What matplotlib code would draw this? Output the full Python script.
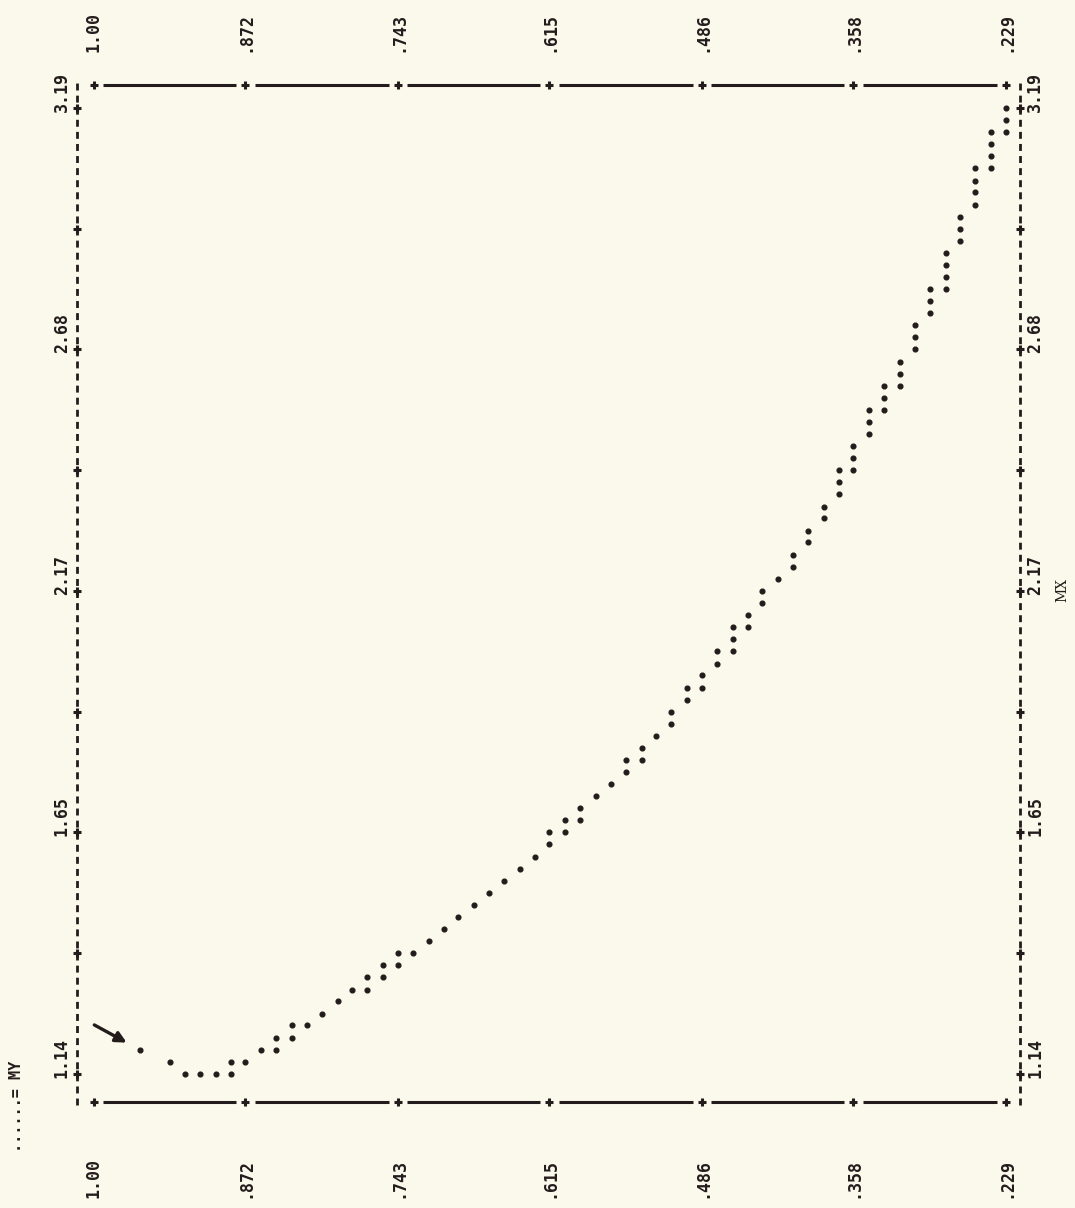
import matplotlib
matplotlib.use("Agg")
import matplotlib.pyplot as plt
import matplotlib.transforms as mtransforms

# ---------------- data ----------------
mx_ticks = [1.14, 1.396, 1.653, 1.909, 2.165, 2.421, 2.678, 2.934, 3.19]
mx_label_values = [1.14, 1.653, 2.165, 2.678, 3.19]
mx_labels = ["1.14", "1.65", "2.17", "2.68", "3.19"]

my_ticks = [1.00, 0.872, 0.743, 0.615, 0.486, 0.358, 0.229]
my_labels = ["1.00", ".872", ".743", ".615", ".486", ".358", ".229"]

mx = [1.191, 1.166, 1.140, 1.140, 1.140, 1.140, 1.166, 1.166, 1.191, 1.191,
      1.217, 1.217, 1.243, 1.243, 1.268, 1.294, 1.319, 1.319, 1.345, 1.345,
      1.371, 1.371, 1.396, 1.396, 1.422, 1.448, 1.473, 1.499, 1.524, 1.550,
      1.576, 1.601, 1.627, 1.653, 1.653, 1.678, 1.678, 1.704, 1.729, 1.755,
      1.781, 1.806, 1.806, 1.832, 1.858, 1.883, 1.909, 1.934, 1.960, 1.960,
      1.986, 2.011, 2.037, 2.037, 2.063, 2.088, 2.088, 2.114, 2.139, 2.165,
      2.191, 2.216, 2.242, 2.268, 2.293, 2.319, 2.344, 2.370, 2.396, 2.421,
      2.421, 2.447, 2.473, 2.498, 2.524, 2.549, 2.549, 2.575, 2.601, 2.601,
      2.626, 2.652, 2.678, 2.703, 2.729, 2.754, 2.780, 2.806, 2.806, 2.831,
      2.857, 2.883, 2.908, 2.934, 2.959, 2.985, 3.011, 3.036, 3.062, 3.062,
      3.088, 3.113, 3.139, 3.139, 3.164, 3.190]
my = [0.961, 0.936, 0.923, 0.910, 0.897, 0.884, 0.884, 0.872, 0.859, 0.846,
      0.846, 0.833, 0.833, 0.820, 0.807, 0.794, 0.782, 0.769, 0.769, 0.756,
      0.756, 0.743, 0.743, 0.730, 0.717, 0.704, 0.692, 0.679, 0.666, 0.653,
      0.640, 0.627, 0.615, 0.615, 0.602, 0.602, 0.589, 0.589, 0.576, 0.563,
      0.550, 0.550, 0.537, 0.537, 0.525, 0.512, 0.512, 0.499, 0.499, 0.486,
      0.486, 0.473, 0.473, 0.460, 0.460, 0.460, 0.447, 0.447, 0.435, 0.435,
      0.422, 0.409, 0.409, 0.396, 0.396, 0.383, 0.383, 0.370, 0.370, 0.370,
      0.358, 0.358, 0.358, 0.345, 0.345, 0.345, 0.332, 0.332, 0.332, 0.319,
      0.319, 0.319, 0.306, 0.306, 0.306, 0.293, 0.293, 0.293, 0.280, 0.280,
      0.280, 0.280, 0.268, 0.268, 0.268, 0.255, 0.255, 0.255, 0.255, 0.242,
      0.242, 0.242, 0.242, 0.229, 0.229, 0.229]

x_label = "MX"
legend_text = "......= MY"

# ---------------- styling ----------------
BG = "#FBF9EC"
INK = "#241C1C"
MONO = "DejaVu Sans Mono"
plt.rcParams["lines.scale_dashes"] = False

W, H = 1075, 1208
fig = plt.figure(figsize=(W / 100, H / 100), dpi=100, facecolor=BG)
# the page is rotated: MY runs left->right (decreasing), MX runs bottom->top
ax = fig.add_axes([77 / W, (H - 1105) / H, (1020 - 77) / W, (1105 - 82) / H])
ax.set_facecolor(BG)
ax.axis("off")
ax.set_xlim(1.01437, 0.21716)
ax.set_ylim(1.0741, 3.2452)

xax = ax.get_xaxis_transform()   # x data, y axes fraction
yax = ax.get_yaxis_transform()   # x axes fraction, y data

# solid MY axes (top and bottom) with '+' at ticks, small gaps around each '+'
gap = 0.0078
for yf in (0.9971, 0.0029):
    for a, b in zip(my_ticks[:-1], my_ticks[1:]):
        ax.plot([a - gap, b + gap], [yf, yf], transform=xax, color=INK,
                lw=2.2, solid_capstyle="butt", clip_on=False)
    ax.plot(my_ticks, [yf] * len(my_ticks), transform=xax, linestyle="none",
            marker="+", ms=6, mew=2.2, color=INK, clip_on=False)

# dashed MX axes (left and right) with '+' at ticks
for xf in (0.0, 1.0):
    ax.plot([xf, xf], [0, 1], transform=ax.transAxes, color=INK, lw=2.0,
            linestyle=(0, (5.0, 3.7)), dash_capstyle="butt", clip_on=False)
    ax.plot([xf] * len(mx_ticks), mx_ticks, transform=yax, linestyle="none",
            marker="+", ms=6, mew=2.2, color=INK, clip_on=False)

# data points
ax.plot(my, mx, linestyle="none", marker="o", ms=3.4, color=INK, clip_on=False)

# MY tick labels (top and bottom), rotated
t_top = mtransforms.blended_transform_factory(ax.transData, fig.transFigure)
for v, lab in zip(my_ticks, my_labels):
    ax.text(v, (H - 52) / H, lab, rotation=90, ha="center", va="bottom",
            transform=t_top, family=MONO, weight="bold", fontsize=12, color=INK)
    ax.text(v, (H - 1158) / H, lab, rotation=90, ha="center", va="top",
            transform=t_top, family=MONO, weight="bold", fontsize=12, color=INK)

# MX tick labels (left and right), rotated
t_side = mtransforms.blended_transform_factory(fig.transFigure, ax.transData)
t_side = mtransforms.offset_copy(t_side, fig=fig, x=0, y=-4, units="dots")
for v, lab in zip(mx_label_values, mx_labels):
    for xpix in (62, 1035):
        ax.text(xpix / W, v, lab, rotation=90, ha="center", va="bottom",
                transform=t_side, family=MONO, weight="bold", fontsize=12,
                color=INK)

# axis title MX (right side) and legend (bottom left)
fig.text(1062 / W, (H - 590) / H, x_label, rotation=90, ha="center",
         va="center", family="DejaVu Serif", fontsize=10, color=INK)
fig.text(17 / W, (H - 1152) / H, legend_text, rotation=90, ha="center",
         va="bottom", family=MONO, weight="bold", fontsize=11, color=INK)

# hand-drawn arrow pointing at the first plotted point
ax.annotate("", xy=(my[0], mx[0]), xytext=(-33, 18), textcoords="offset points",
            arrowprops=dict(arrowstyle="-|>", color=INK, lw=2.4,
                            mutation_scale=16, shrinkA=0, shrinkB=11))

fig.savefig("out.png", dpi=100, facecolor=BG)
